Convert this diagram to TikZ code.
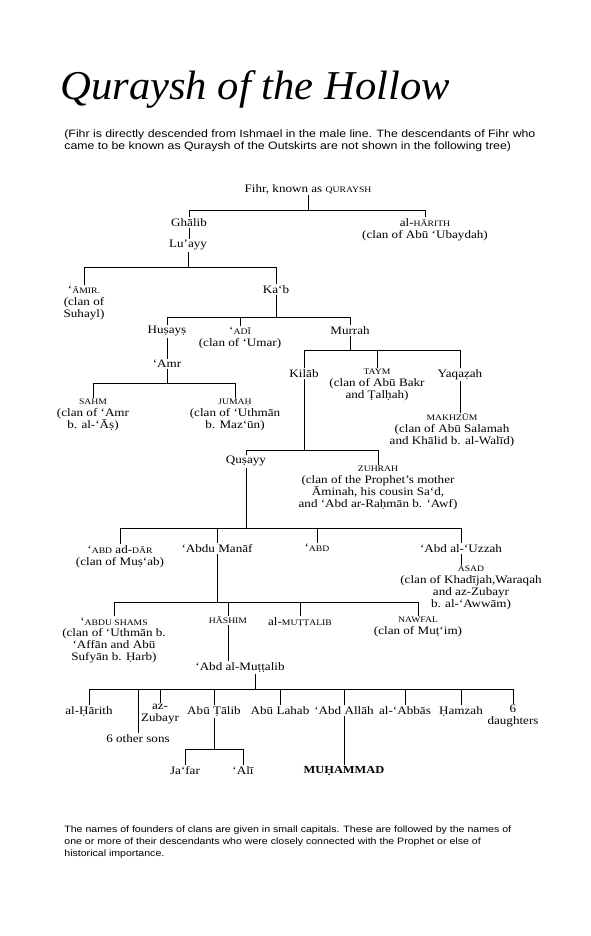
\documentclass[tikz,border=0pt]{standalone}
\usepackage{fontspec}
\setmainfont[FakeStretch=1.15]{Liberation Serif}
\newfontfamily\titlefont[FakeStretch=1.04]{Liberation Serif}
\newfontfamily\notefont[FakeStretch=1.15]{Liberation Sans}
\newcommand\founder[1]{{\fontsize{8.4}{9}\selectfont #1}}

\begin{document}
\begin{tikzpicture}[x=1pt,y=-1pt,
  person/.style={inner sep=1pt,align=center,anchor=north,font=\fontsize{11.4}{11.8}\selectfont},
  note/.style={inner sep=0pt,align=left,anchor=north west,font=\notefont\fontsize{10.7}{12}\selectfont},
  every path/.style={line width=0.8pt}]
\fill[white] (0,0) rectangle (591,936);
\useasboundingbox (0,0) rectangle (591,936);
\node[anchor=base west,inner sep=0pt,font=\titlefont\fontsize{41}{41}\selectfont\itshape] (title) at (60,100) {Quraysh of the Hollow};
\node[note] (intro) at (64,129) {(Fihr is directly descended from Ishmael in the male line. The descendants of Fihr who\\came to be known as Quraysh of the Outskirts are not shown in the following tree)};
\node[person] (fihr) at (308,183) {Fihr, known as \founder{QURAYSH}};
\node[person] (ghalib) at (189,217) {Ghālib};
\node[person] (harith) at (425,217) {al-\founder{HĀRITH}\\(clan of Abū ‘Ubaydah)};
\node[person] (luayy) at (188,239) {Lu’ayy};
\node[person] (amir) at (84,285) {‘\founder{ĀMIR.}\\(clan of\\Suhayl)};
\node[person] (kab) at (276,284) {Ka‘b};
\node[person] (husays) at (167,325) {Huṣayṣ};
\node[person] (adi) at (240,326) {‘\founder{ADĪ}\\(clan of ‘Umar)};
\node[person] (murrah) at (350,325) {Murrah};
\node[person] (amr) at (167,359) {‘Amr};
\node[person] (sahm) at (93,398) {\founder{SAHM}\\(clan of ‘Amr\\b. al-‘Āṣ)};
\node[person] (jumah) at (235,398) {\founder{JUMAḤ}\\(clan of ‘Uthmān\\b. Maz‘ūn)};
\node[person] (kilab) at (304,368) {Kilāb};
\node[person] (taym) at (377,368) {\founder{TAYM}\\(clan of Abū Bakr\\and Ṭalḥah)};
\node[person] (yaqazah) at (460,368) {Yaqaẓah};
\node[person] (makhzum) at (452,413) {\founder{MAKHZŪM}\\(clan of Abū Salamah\\and Khālid b. al-Walīd)};
\node[person] (qusayy) at (246,455) {Quṣayy};
\node[person] (zuhrah) at (378,465) {\founder{ZUHRAH}\\(clan of the Prophet’s mother\\Āminah, his cousin Sa‘d,\\and ‘Abd ar-Raḥmān b. ‘Awf)};
\node[person] (abddar) at (120,544) {‘\founder{ABD} ad-\founder{DĀR}\\(clan of Muṣ‘ab)};
\node[person] (manaf) at (217,543) {‘Abdu Manāf};
\node[person] (abd) at (317,543) {‘\founder{ABD}};
\node[person] (uzzah) at (461,543) {‘Abd al-‘Uzzah};
\node[person] (asad) at (471,565) {\founder{ASAD}\\(clan of Khadījah,Waraqah\\and az-Zubayr\\b. al-‘Awwām)};
\node[person] (shams) at (114,616) {‘\founder{ABDU SHAMS}\\(clan of ‘Uthmān b.\\‘Affān and Abū\\Sufyān b. Ḥarb)};
\node[person] (hashim) at (228,616) {\founder{HĀSHIM}};
\node[person] (muttalib) at (300,616) {al-\founder{MUṬṬALIB}};
\node[person] (nawfal) at (418,616) {\founder{NAWFAL}\\(clan of Muṭ‘im)};
\node[person] (abdmuttalib) at (240,661) {‘Abd al-Muṭṭalib};
\node[person] (harith2) at (89,705) {al-Ḥārith};
\node[person] (zubayr) at (160,703) {az-\\Zubayr};
\node[person] (othersons) at (138,733) {6 other sons};
\node[person] (talib) at (214,705) {Abū Ṭālib};
\node[person] (lahab) at (280,705) {Abū Lahab};
\node[person] (abdallah) at (344,705) {‘Abd Allāh};
\node[person] (abbas) at (405,705) {al-‘Abbās};
\node[person] (hamzah) at (461,705) {Ḥamzah};
\node[person] (daughters) at (513,704) {6\\daughters};
\node[person] (jafar) at (185,765) {Ja‘far};
\node[person] (ali) at (243,765) {‘Alī};
\node[person,font=\fontsize{10.8}{12}\selectfont\bfseries] (muhammad) at (344,765) {MUḤAMMAD};
\node[note,font=\notefont\fontsize{9.2}{12.4}\selectfont] (caption) at (64,825) {The names of founders of clans are given in small capitals. These are followed by the names of\\one or more of their descendants who were closely connected with the Prophet or else of\\historical importance.};
\draw (fihr.south) -- (fihr.south |- 0,210);
\draw (ghalib.north) |- (harith.north |- 0,210) -- (harith.north);
\draw (ghalib.south) -- (ghalib.south |- luayy.north);
\draw (luayy.south) -- (luayy.south |- 0,267);
\draw (amir.north) |- (kab.north |- 0,267) -- (kab.north);
\draw (kab.south) -- (kab.south |- 0,317);
\draw (husays.north) |- (murrah.north |- 0,317) -- (murrah.north);
\draw (adi.north) -- (adi.north |- 0,317);
\draw (husays.south) -- (husays.south |- amr.north);
\draw (amr.south) -- (amr.south |- 0,383);
\draw (sahm.north) |- (jumah.north |- 0,383) -- (jumah.north);
\draw (murrah.south) -- (murrah.south |- 0,350);
\draw (kilab.north) |- (yaqazah.north |- 0,350) -- (yaqazah.north);
\draw (taym.north) -- (taym.north |- 0,350);
\draw (yaqazah.south) -- (yaqazah.south |- makhzum.north);
\draw (kilab.south) -- (kilab.south |- 0,450);
\draw (qusayy.north) |- (zuhrah.north |- 0,450) -- (zuhrah.north);
\draw (qusayy.south) -- (qusayy.south |- 0,528);
\draw (abddar.north) |- (uzzah.north |- 0,528) -- (uzzah.north);
\draw (manaf.north) -- (manaf.north |- 0,528);
\draw (abd.north) -- (abd.north |- 0,528);
\draw (uzzah.south) -- (uzzah.south |- asad.north);
\draw (manaf.south) -- (manaf.south |- 0,602);
\draw (shams.north) |- (nawfal.north |- 0,602) -- (nawfal.north);
\draw (hashim.north) -- (hashim.north |- 0,602);
\draw (muttalib.north) -- (muttalib.north |- 0,602);
\draw (hashim.south) -- (hashim.south |- abdmuttalib.north);
\draw ([xshift=15]abdmuttalib.south) -- ([xshift=15]abdmuttalib.south |- 0,689);
\draw (harith2.north) |- (daughters.north |- 0,689) -- (daughters.north);
\draw (othersons.north) -- (othersons.north |- 0,689);
\draw (zubayr.north) -- (zubayr.north |- 0,689);
\draw (talib.north) -- (talib.north |- 0,689);
\draw (lahab.north) -- (lahab.north |- 0,689);
\draw (abdallah.north) -- (abdallah.north |- 0,689);
\draw (abbas.north) -- (abbas.north |- 0,689);
\draw (hamzah.north) -- (hamzah.north |- 0,689);
\draw (talib.south) -- (talib.south |- 0,749);
\draw (jafar.north) |- (ali.north |- 0,749) -- (ali.north);
\draw (abdallah.south) -- (muhammad.north);
\end{tikzpicture}
\end{document}
